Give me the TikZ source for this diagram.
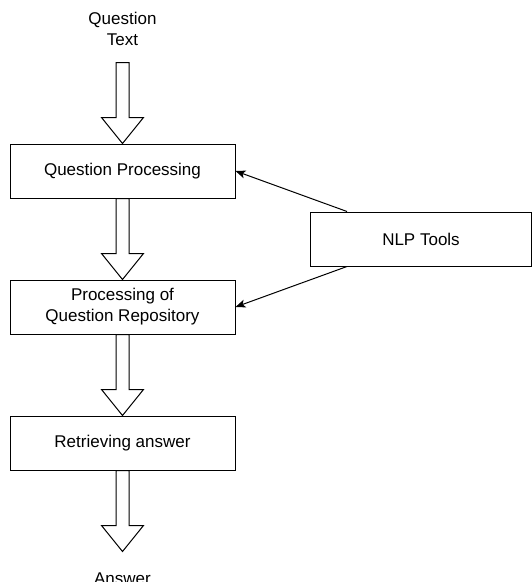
\documentclass[tikz,border=0pt]{standalone}
\usepackage{fontspec}
\setmainfont{Liberation Sans}
\usetikzlibrary{positioning,arrows.meta}

\begin{document}
\begin{tikzpicture}[x=1pt, y=1pt, line width=1pt,
    every node/.style={font=\fontsize{17}{21}\selectfont},
    stage/.style={draw, shape=rectangle, minimum width=225pt, minimum height=54pt, align=center},
    endtext/.style={align=center, inner xsep=0pt, inner ysep=16pt},
    fat/.style={draw, fill=white},
    feed/.style={-{Stealth[length=10pt, width=8pt, inset=2.5pt]}}]
  \useasboundingbox (0,0) rectangle (532,-582);
  \node (qp) [stage] at (122.5,-171) {Question Processing};
  \node (pr) [stage, below=81pt of qp] {Processing of\\Question Repository};
  \node (ra) [stage, below=81pt of pr] {Retrieving answer};
  \node (qt) [endtext, above=81pt of qp] {Question\\Text};
  \node (ans) [endtext, inner ysep=21pt, below=81pt of ra] {Answer};
  \node (nlp) [stage, minimum width=221pt, anchor=west] at (310,-239) {NLP Tools};
  % hollow block arrows down the chain
  \foreach \a in {qt, qp, pr, ra}
    \draw[fat] (\a.south) ++(-6.5,0) -- ++(0,-55) -- ++(-14.5,0) -- ++(21,-26)
      -- ++(21,26) -- ++(-14.5,0) -- ++(0,55) -- cycle;
  \draw[feed] ([xshift=37pt]nlp.north west) -- (qp.east);
  \draw[feed] ([xshift=37pt]nlp.south west) -- (pr.east);
\end{tikzpicture}
\end{document}
